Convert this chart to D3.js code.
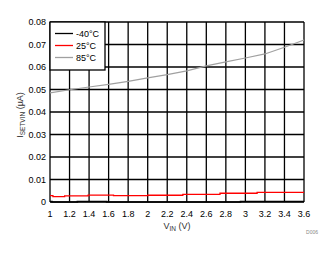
<!DOCTYPE html>
<html>
<head>
<meta charset="utf-8">
<script src="https://d3js.org/d3.v7.min.js"></script>
<style>
  body { margin: 0; background: #fff; }
  text { font-family: "Liberation Sans", Arial, sans-serif; }
</style>
</head>
<body>
<script>
// tick labels
const xTicks = [1, 1.2, 1.4, 1.6, 1.8, 2, 2.2, 2.4, 2.6, 2.8, 3, 3.2, 3.4, 3.6];
const yTicks = [0, 0.01, 0.02, 0.03, 0.04, 0.05, 0.06, 0.07, 0.08];

// -40°C (stepped, near zero)
const vinCold = [1.0, 1.02, 1.28, 1.58, 2.95, 3.6];
const iCold   = [0.0002, 0, 0.0002, 0, 0.0002, 0.0002];

// 25°C (stepped)
const vinRoom = [1.0, 1.03, 1.15, 1.39, 1.65, 2.0, 2.36, 2.74, 3.12, 3.6];
const iRoom   = [0.0028, 0.0024, 0.0027, 0.0031, 0.0028, 0.003, 0.0034, 0.0039, 0.0043, 0.0043];

// 85°C
const vinHot = [1.0, 1.2, 1.4, 1.6, 1.8, 2.0, 2.2, 2.4, 2.6, 2.8, 3.0, 3.2, 3.4, 3.6];
const iHot   = [0.0485, 0.0499, 0.0511, 0.0523, 0.0536, 0.0552, 0.0566, 0.0583, 0.0605, 0.0623, 0.064, 0.0658, 0.0688, 0.072];

const seriesNames  = ["-40°C", "25°C", "85°C"];
const seriesColors = ["#000000", "#ff0000", "#a0a0a0"];

let width = 333, height = 254;
let plotLeft = 50, plotRight = 304, plotTop = 22, plotBottom = 202;

let svg = d3.select("body").append("svg")
    .attr("width", width)
    .attr("height", height);

let x = d3.scaleLinear().domain([1, 3.6]).range([plotLeft, plotRight]);
let y = d3.scaleLinear().domain([0, 0.08]).range([plotBottom, plotTop]);

// grid
svg.append("g").selectAll("line")
    .data(xTicks)
    .join("line")
        .attr("x1", d => x(d)).attr("x2", d => x(d))
        .attr("y1", plotTop).attr("y2", plotBottom)
        .style("stroke", "black").style("stroke-width", 1.3);
svg.append("g").selectAll("line")
    .data(yTicks)
    .join("line")
        .attr("x1", plotLeft).attr("x2", plotRight)
        .attr("y1", d => y(d)).attr("y2", d => y(d))
        .style("stroke", "black").style("stroke-width", 1.3);

// tick labels
svg.append("g").selectAll("text")
    .data(xTicks)
    .join("text")
        .attr("x", d => x(d))
        .attr("y", 217)
        .attr("text-anchor", "middle")
        .style("font-size", "9px")
        .text(d => d);
svg.append("g").selectAll("text")
    .data(yTicks)
    .join("text")
        .attr("x", 46)
        .attr("y", d => y(d) + 3)
        .attr("text-anchor", "end")
        .style("font-size", "9px")
        .text(d => d === 0 ? "0" : d.toFixed(2));

// series
let stepLine = d3.line().curve(d3.curveStepAfter).x(d => x(d[0])).y(d => y(d[1]));
let smoothLine = d3.line().x(d => x(d[0])).y(d => y(d[1]));

svg.append("path")
    .attr("d", smoothLine(d3.zip(vinHot, iHot)))
    .style("fill", "none").style("stroke", seriesColors[2]).style("stroke-width", 1.2);
svg.append("path")
    .attr("d", stepLine(d3.zip(vinRoom, iRoom)))
    .style("fill", "none").style("stroke", seriesColors[1]).style("stroke-width", 1.3);
svg.append("path")
    .attr("d", stepLine(d3.zip(vinCold, iCold)))
    .style("fill", "none").style("stroke", seriesColors[0]).style("stroke-width", 1.6);

// legend
let legend = svg.append("g");
legend.append("rect")
    .attr("x", plotLeft).attr("y", plotTop)
    .attr("width", 55).attr("height", 48)
    .style("fill", "white").style("stroke", "black").style("stroke-width", 1.3);
seriesNames.forEach((name, i) => {
    let ly = 33.5 + i * 12;
    legend.append("line")
        .attr("x1", 55).attr("x2", 73)
        .attr("y1", ly).attr("y2", ly)
        .style("stroke", seriesColors[i]).style("stroke-width", 1.3);
    legend.append("text")
        .attr("x", 76).attr("y", ly + 3.2)
        .style("font-size", "9px")
        .text(name);
});

// axis titles
let xt = svg.append("text")
    .attr("x", 177).attr("y", 229)
    .attr("text-anchor", "middle")
    .style("font-size", "9px")
    .style("fill", "#333");
xt.append("tspan").text("V");
xt.append("tspan").attr("dy", 2).style("font-size", "6.5px").text("IN");
xt.append("tspan").attr("dy", -2).text(" (V)");

let yt = svg.append("text")
    .attr("transform", "translate(23,115) rotate(-90)")
    .attr("text-anchor", "middle")
    .style("font-size", "9px")
    .style("fill", "#333");
yt.append("tspan").text("I");
yt.append("tspan").attr("dy", 2).style("font-size", "6.5px").text("SETVIN");
yt.append("tspan").attr("dy", -2).text(" (µA)");

svg.append("text")
    .attr("x", 318).attr("y", 234)
    .attr("text-anchor", "end")
    .style("font-size", "5px")
    .style("fill", "#888")
    .text("D006");
</script>
</body>
</html>
